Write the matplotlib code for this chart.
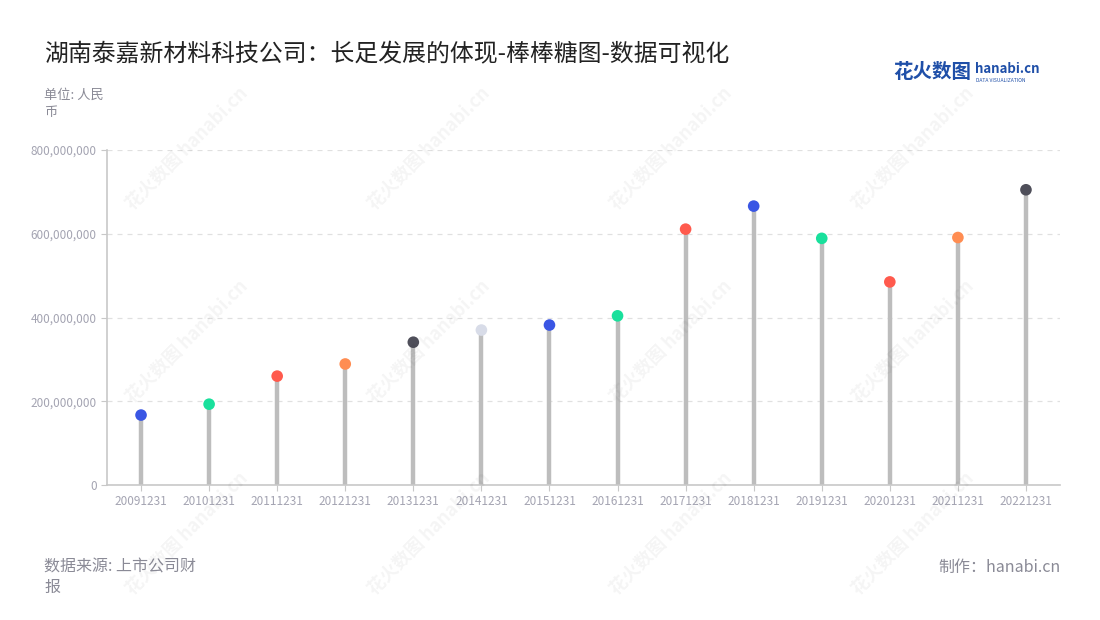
import matplotlib
matplotlib.use('Agg')
import matplotlib.pyplot as plt
from matplotlib.ticker import FuncFormatter

plt.rcParams['font.family'] = ['Noto Sans CJK SC', 'DejaVu Sans']

# 数据
dates = ['20091231', '20101231', '20111231', '20121231', '20131231', '20141231', '20151231',
         '20161231', '20171231', '20181231', '20191231', '20201231', '20211231', '20221231']
values = [167e6, 193e6, 260e6, 289e6, 341e6, 370e6, 382e6,
          404e6, 611e6, 666e6, 589e6, 485e6, 591e6, 705e6]
dot_colors = ['#3a56e4', '#19e09c', '#ff5a4d', '#ff8d52', '#4f4f5a', '#d8dce8', '#3a56e4',
              '#19e09c', '#ff5a4d', '#3a56e4', '#19e09c', '#ff5a4d', '#ff8d52', '#4f4f5a']

fig = plt.figure(figsize=(11, 6.2), dpi=100)
ax = fig.add_axes([107/1100, 1 - 485/620, (1060 - 107)/1100, (485 - 150)/620])

x = list(range(len(dates)))
ax.vlines(x, 0, values, color='#bdbdbd', linewidth=3.2, zorder=2)
ax.scatter(x, values, s=70, c=dot_colors, zorder=3, linewidths=0)

ax.set_xlim(-0.5, len(dates) - 0.5)
ax.set_ylim(0, 800e6)
ax.set_yticks([0, 200e6, 400e6, 600e6, 800e6])
ax.yaxis.set_major_formatter(FuncFormatter(lambda v, p: f'{int(v):,}'))
ax.set_xticks(x)
ax.set_xticklabels(dates)
ax.grid(axis='y', linestyle=(0, (4, 4)), color='#e0e0e0', linewidth=0.9, zorder=0)
ax.set_axisbelow(True)

for s in ['top', 'right']:
    ax.spines[s].set_visible(False)
for s in ['left', 'bottom']:
    ax.spines[s].set_color('#c8c8c8')
    ax.spines[s].set_linewidth(1.2)
ax.tick_params(axis='both', colors='#c8c8c8', labelcolor='#a4a4b2', labelsize=8.5, length=4)
ax.tick_params(axis='x', pad=3)

# 水印
for wx in [0.17, 0.39, 0.61, 0.83]:
    for wy in [0.76, 0.45, 0.14]:
        fig.text(wx, wy, '花火数图 hanabi.cn', rotation=45, fontsize=13, color='#000000',
                 alpha=0.045, ha='center', va='center', fontweight='bold', zorder=5)

# 标题与说明
fig.text(44/1100, 1 - 55/620, '湖南泰嘉新材料科技公司：长足发展的体现-棒棒糖图-数据可视化',
         fontsize=17.2, color='#222222', va='center')
fig.text(44/1100, 1 - 104/620, '单位: 人民\n币', fontsize=9.5, color='#8a8a96',
         va='center', linespacing=1.35)
fig.text(44/1100, 1 - 577/620, '数据来源: 上市公司财\n报', fontsize=11.5, color='#8a8a96',
         va='center', linespacing=1.3)
fig.text(1061/1100, 1 - 567/620, '制作：hanabi.cn', fontsize=11.5, color='#8a8a96',
         va='center', ha='right')

# logo
fig.text(893/1100, 1 - 72/620, '花火数图', fontsize=14, color='#1f4fa8', fontweight='bold', va='center')
fig.text(975/1100, 1 - 69/620, 'hanabi.cn', fontsize=9.5, color='#1f4fa8', fontweight='bold', va='center')
fig.text(976/1100, 1 - 80/620, 'DATA VISUALIZATION', fontsize=3.6, color='#1f4fa8', va='center')

fig.savefig('out.png', dpi=100, facecolor='white')
